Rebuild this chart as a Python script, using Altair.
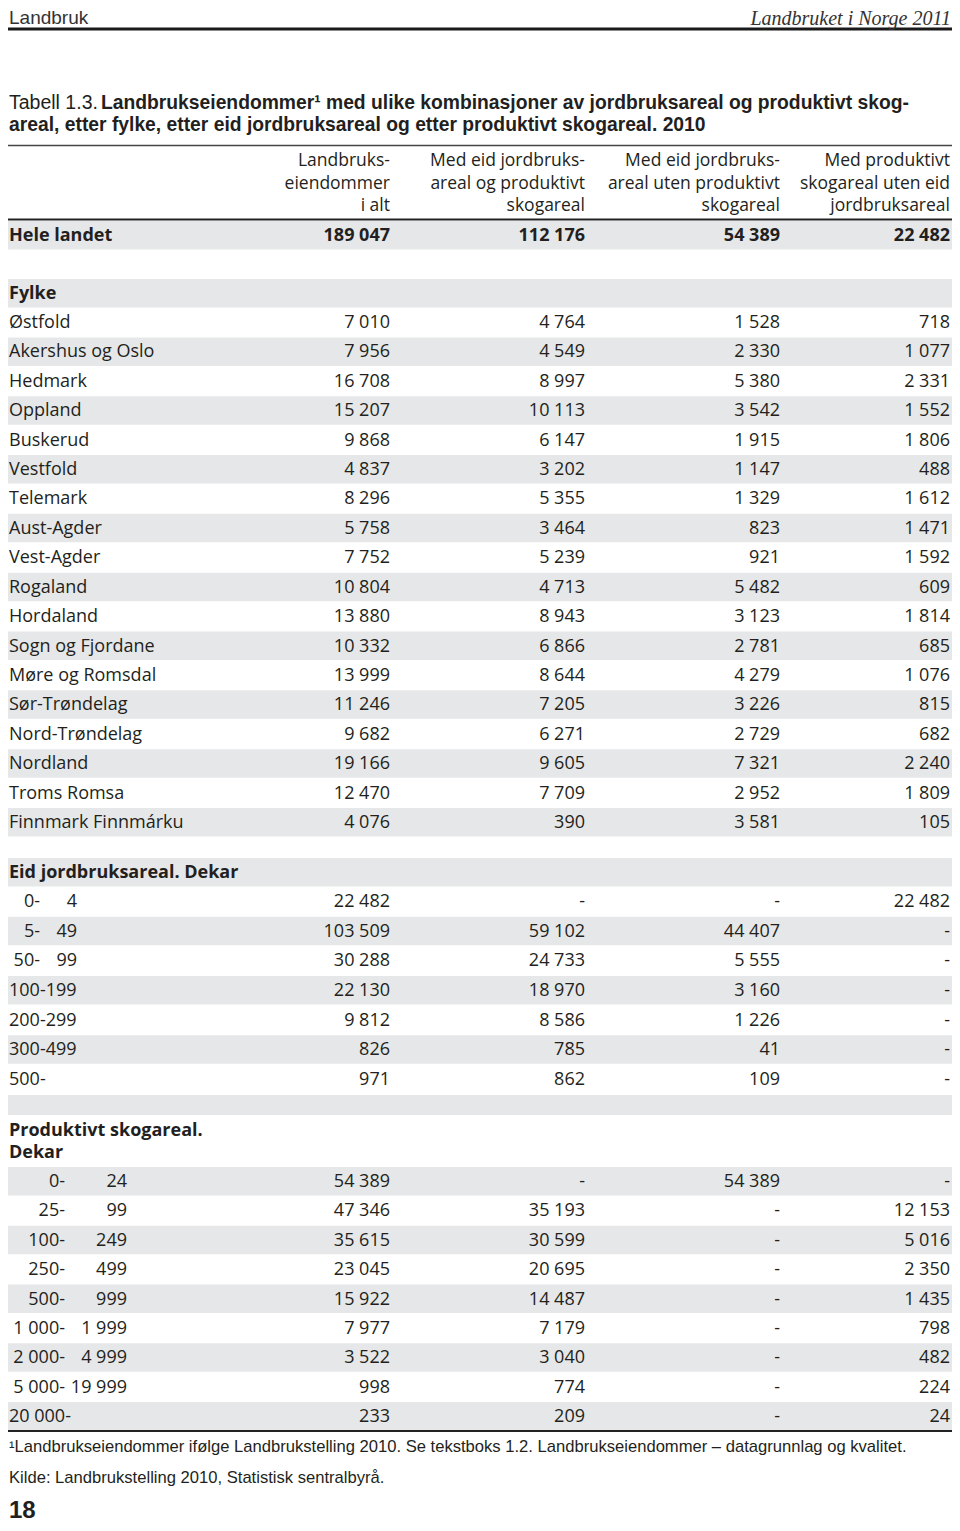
import altair as alt
import pandas as pd

# ---------------- data ----------------
col_headers = [
    ["Landbruks-", "eiendommer", "i alt"],
    ["Med eid jordbruks-", "areal og produktivt", "skogareal"],
    ["Med eid jordbruks-", "areal uten produktivt", "skogareal"],
    ["Med produktivt", "skogareal uten eid", "jordbruksareal"],
]
hele_landet = [189047, 112176, 54389, 22482]

fylke_names = ["Østfold", "Akershus og Oslo", "Hedmark", "Oppland", "Buskerud", "Vestfold",
               "Telemark", "Aust-Agder", "Vest-Agder", "Rogaland", "Hordaland",
               "Sogn og Fjordane", "Møre og Romsdal", "Sør-Trøndelag", "Nord-Trøndelag",
               "Nordland", "Troms Romsa", "Finnmark Finnmárku"]
fylke_i_alt = [7010, 7956, 16708, 15207, 9868, 4837, 8296, 5758, 7752, 10804, 13880,
               10332, 13999, 11246, 9682, 19166, 12470, 4076]
fylke_begge = [4764, 4549, 8997, 10113, 6147, 3202, 5355, 3464, 5239, 4713, 8943,
               6866, 8644, 7205, 6271, 9605, 7709, 390]
fylke_uten_skog = [1528, 2330, 5380, 3542, 1915, 1147, 1329, 823, 921, 5482, 3123,
                   2781, 4279, 3226, 2729, 7321, 2952, 3581]
fylke_uten_jord = [718, 1077, 2331, 1552, 1806, 488, 1612, 1471, 1592, 609, 1814,
                   685, 1076, 815, 682, 2240, 1809, 105]

eid_lo = ["0-", "5-", "50-", "100-199", "200-299", "300-499", "500-"]
eid_hi = ["4", "49", "99", "", "", "", ""]
eid_i_alt = [22482, 103509, 30288, 22130, 9812, 826, 971]
eid_begge = [None, 59102, 24733, 18970, 8586, 785, 862]
eid_uten_skog = [None, 44407, 5555, 3160, 1226, 41, 109]
eid_uten_jord = [22482, None, None, None, None, None, None]

skog_lo = ["0-", "25-", "100-", "250-", "500-", "1 000-", "2 000-", "5 000-", "20 000-"]
skog_hi = ["24", "99", "249", "499", "999", "1 999", "4 999", "19 999", ""]
skog_i_alt = [54389, 47346, 35615, 23045, 15922, 7977, 3522, 998, 233]
skog_begge = [None, 35193, 30599, 20695, 14487, 7179, 3040, 774, 209]
skog_uten_skog = [54389, None, None, None, None, None, None, None, None]
skog_uten_jord = [None, 12153, 5016, 2350, 1435, 798, 482, 224, 24]

page_left = "Landbruk"
page_right = "Landbruket i Norge 2011"
title_prefix = "Tabell 1.3."
title_line1 = "Landbrukseiendommer¹ med ulike kombinasjoner av jordbruksareal og produktivt skog-"
title_line2 = "areal, etter fylke, etter eid jordbruksareal og etter produktivt skogareal. 2010"
sec_fylke = "Fylke"
sec_eid = "Eid jordbruksareal. Dekar"
sec_skog = ["Produktivt skogareal.", "Dekar"]
footnote = "¹Landbrukseiendommer ifølge Landbrukstelling 2010. Se tekstboks 1.2. Landbrukseiendommer – datagrunnlag og kvalitet."
source = "Kilde:  Landbrukstelling 2010, Statistisk sentralbyrå."
page_no = "18"

# ---------------- layout ----------------
BODY = "Open Sans"
COND = "Liberation Sans"
SERIF = "Liberation Serif"
INK = "#231f20"
GRAY = "#e6e7e8"
W, H = 944, 1515
LEFT, RIGHT = 8, 952      # band / rule extent (page pixels)
TX = 9                    # left text anchor
col_right = [390, 585, 780, 950]

xs = alt.Scale(domain=[8, 8 + W], range=[0, W], nice=False, zero=False)
ys = alt.Scale(domain=[8, 8 + H], range=[0, H], nice=False, zero=False)


def fmt(v):
    return "-" if v is None else f"{v:,}".replace(",", " ")


body_left, body_right, bold_left, bold_right, lo_right = [], [], [], [], []
stripes = []


def add_values(vals, y, target):
    for c, v in enumerate(vals):
        target.append({"x": col_right[c], "y": y, "text": fmt(v)})


def stripe(y):
    stripes.append({"x1": LEFT, "x2": RIGHT, "y1": y - 15, "y2": y + 13.5})


# Hele landet
y = 236
stripe(y)
bold_left.append({"x": TX, "y": y, "text": "Hele landet"})
add_values(hele_landet, y, bold_right)

# Fylke
y = 294
stripe(y)
bold_left.append({"x": TX, "y": y, "text": sec_fylke})
for i, name in enumerate(fylke_names):
    y = 323 + i * 29.41
    if i % 2 == 1:
        stripe(y)
    body_left.append({"x": TX, "y": y, "text": name})
    add_values([fylke_i_alt[i], fylke_begge[i], fylke_uten_skog[i], fylke_uten_jord[i]], y, body_right)

# Eid jordbruksareal
y = 873
stripe(y)
bold_left.append({"x": TX, "y": y, "text": sec_eid})
for j in range(len(eid_lo)):
    y = 902 + j * 29.67
    if j % 2 == 1:
        stripe(y)
    if eid_hi[j]:
        lo_right.append({"x": 40, "y": y, "text": eid_lo[j]})
        lo_right.append({"x": 77, "y": y, "text": eid_hi[j]})
    else:
        body_left.append({"x": TX, "y": y, "text": eid_lo[j]})
    add_values([eid_i_alt[j], eid_begge[j], eid_uten_skog[j], eid_uten_jord[j]], y, body_right)

# empty band
stripes.append({"x1": LEFT, "x2": RIGHT, "y1": 1095, "y2": 1115})

# Produktivt skogareal
bold_left.append({"x": TX, "y": 1131, "text": sec_skog[0]})
bold_left.append({"x": TX, "y": 1153, "text": sec_skog[1]})
for k in range(len(skog_lo)):
    y = 1182 + k * 29.375
    if k % 2 == 0:
        stripe(y)
    if skog_hi[k]:
        lo_right.append({"x": 65, "y": y, "text": skog_lo[k]})
        lo_right.append({"x": 127, "y": y, "text": skog_hi[k]})
    else:
        body_left.append({"x": TX, "y": y, "text": skog_lo[k]})
    add_values([skog_i_alt[k], skog_begge[k], skog_uten_skog[k], skog_uten_jord[k]], y, body_right)

header_cells = []
for c, lines in enumerate(col_headers):
    for li, t in enumerate(lines):
        header_cells.append({"x": col_right[c], "y": 161 + li * 22.5, "text": t})

rules = pd.DataFrame([
    {"x1": LEFT, "x2": 952, "y": 29, "w": 3.0, "c": "#1a1a1a"},
    {"x1": LEFT, "x2": RIGHT, "y": 145.5, "w": 1.7, "c": "#444444"},
    {"x1": LEFT, "x2": RIGHT, "y": 219.5, "w": 2.2, "c": "#222222"},
    {"x1": LEFT, "x2": RIGHT, "y": 1431, "w": 2.2, "c": "#222222"},
])


def tlayer(rows, align, font, size, weight="normal", style="normal", color=INK):
    return alt.Chart(pd.DataFrame(rows)).mark_text(
        align=align, baseline="middle", font=font, fontSize=size,
        fontWeight=weight, fontStyle=style, color=color,
    ).encode(
        x=alt.X("x:Q", scale=xs, axis=None),
        y=alt.Y("y:Q", scale=ys, axis=None),
        text="text:N",
    )


stripe_layer = alt.Chart(pd.DataFrame(stripes)).mark_rect(color=GRAY).encode(
    x=alt.X("x1:Q", scale=xs, axis=None), x2="x2:Q",
    y=alt.Y("y1:Q", scale=ys, axis=None), y2="y2:Q",
)

rule_layers = []
for _, r in rules.iterrows():
    rule_layers.append(
        alt.Chart(pd.DataFrame([r.to_dict()])).mark_rule(strokeWidth=r["w"], color=r["c"]).encode(
            x=alt.X("x1:Q", scale=xs, axis=None), x2="x2:Q",
            y=alt.Y("y:Q", scale=ys, axis=None),
        )
    )

layers = [stripe_layer] + rule_layers + [
    tlayer([{"x": TX, "y": 18, "text": page_left}], "left", COND, 19, color="#333333"),
    tlayer([{"x": 951, "y": 18.5, "text": page_right}], "right", SERIF, 20, style="italic", color="#333333"),
    tlayer([{"x": TX, "y": 103, "text": title_prefix}], "left", COND, 19.5),
    tlayer([{"x": 101, "y": 103, "text": title_line1}, {"x": TX, "y": 125, "text": title_line2}],
           "left", COND, 19.3, weight="bold"),
    tlayer(header_cells, "right", BODY, 17.5),
    tlayer(bold_left, "left", BODY, 18, weight="bold"),
    tlayer(bold_right, "right", BODY, 18, weight="bold"),
    tlayer(body_left, "left", BODY, 18),
    tlayer(body_right, "right", BODY, 18),
    tlayer(lo_right, "right", BODY, 18),
    tlayer([{"x": TX, "y": 1447, "text": footnote}], "left", COND, 16.6),
    tlayer([{"x": TX, "y": 1478, "text": source}], "left", COND, 16.6),
    tlayer([{"x": TX, "y": 1511, "text": page_no}], "left", COND, 24, weight="bold"),
]

chart = alt.layer(*layers).properties(
    width=W, height=H, padding=0, autosize=alt.AutoSizeParams(type="none"),
    background="white",
).configure_view(stroke=None)

chart.save("out.html", embed_options={"renderer": "svg", "actions": False})
